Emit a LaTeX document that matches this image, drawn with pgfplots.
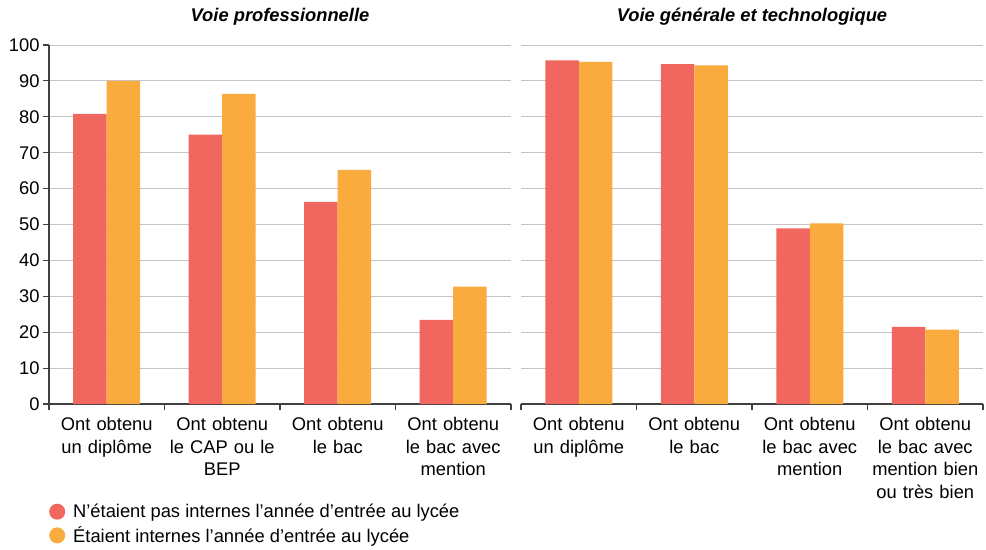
\documentclass[border=0pt]{standalone}
\usepackage{fontspec}
\setmainfont{Liberation Sans}
\usepackage{pgfplots}
\pgfplotsset{compat=1.18}
\definecolor{cred}{HTML}{F0675F}
\definecolor{corange}{HTML}{F9AC3D}
\definecolor{axgray}{HTML}{404040}
\definecolor{gridgray}{HTML}{C4C4C4}
\newcommand{\fs}{\fontsize{18.4}{22.5}\selectfont}
\pgfplotsset{
 panel/.style={
  width=462bp, height=359bp, scale only axis,
  xmin=-0.5, xmax=3.5, ymin=0, ymax=100,
  enlargelimits=false,
  ytick={0,10,...,100},
  xtick={0,1,2,3},
  minor xtick={-0.5,0.5,1.5,2.5,3.5},
  axis lines*=left,
  axis line style={axgray, line width=1.2bp},
  every tick/.style={axgray, line width=1.2bp},
  tick align=outside,
  major tick length=6bp,
  minor tick length=6bp,
  major x tick style={draw=none},
  ymajorgrids,
  major grid style={gridgray, line width=0.9bp},
  ybar=0pt, bar width=33.5bp,
  tick label style={font=\fs},
  /pgf/number format/assume math mode=true,
  xticklabel style={text width=125bp, align=center, font=\fs, yshift=-4bp},
  title style={font=\fs\bfseries\itshape, anchor=base, at={(0.5,1)}, yshift=18bp},
 }
}
\begin{document}
\begin{tikzpicture}
\useasboundingbox (-49bp,-146bp) rectangle (937bp,404bp);
\begin{axis}[panel,
  title={Voie professionnelle},
  xticklabels={{Ont obtenu\\un diplôme},{Ont obtenu\\le CAP ou le\\BEP},{Ont obtenu\\le bac},{Ont obtenu\\le bac avec\\mention}},
  legend style={draw=none, fill=none, at={(0,0)}, anchor=north west, xshift=0bp, yshift=-98bp, font=\fs, row sep=3.5bp, inner sep=0pt, legend cell align=left},
  ]
\addplot[fill=cred, draw=none, legend image code/.code={\fill[cred] (8bp,0bp) circle (8bp); \path (22bp,0bp);}] coordinates {(0,80.8) (1,75.0) (2,56.3) (3,23.4)};
\addplot[fill=corange, draw=none, legend image code/.code={\fill[corange] (8bp,0bp) circle (8bp); \path (22bp,0bp);}] coordinates {(0,90.0) (1,86.4) (2,65.2) (3,32.7)};
\legend{N’étaient pas internes l’année d’entrée au lycée, Étaient internes l’année d’entrée au lycée}
\end{axis}
\begin{axis}[panel, at={(472bp,0bp)},
  title={Voie générale et technologique},
  y axis line style={draw=none},
  major y tick style={draw=none},
  yticklabels={},
  xticklabels={{Ont obtenu\\un diplôme},{Ont obtenu\\le bac},{Ont obtenu\\le bac avec\\mention},{Ont obtenu\\le bac avec\\mention bien\\ou très bien}},
  ]
\addplot[fill=cred, draw=none] coordinates {(0,95.7) (1,94.7) (2,48.9) (3,21.5)};
\addplot[fill=corange, draw=none] coordinates {(0,95.3) (1,94.3) (2,50.3) (3,20.7)};
\end{axis}
\end{tikzpicture}
\end{document}
